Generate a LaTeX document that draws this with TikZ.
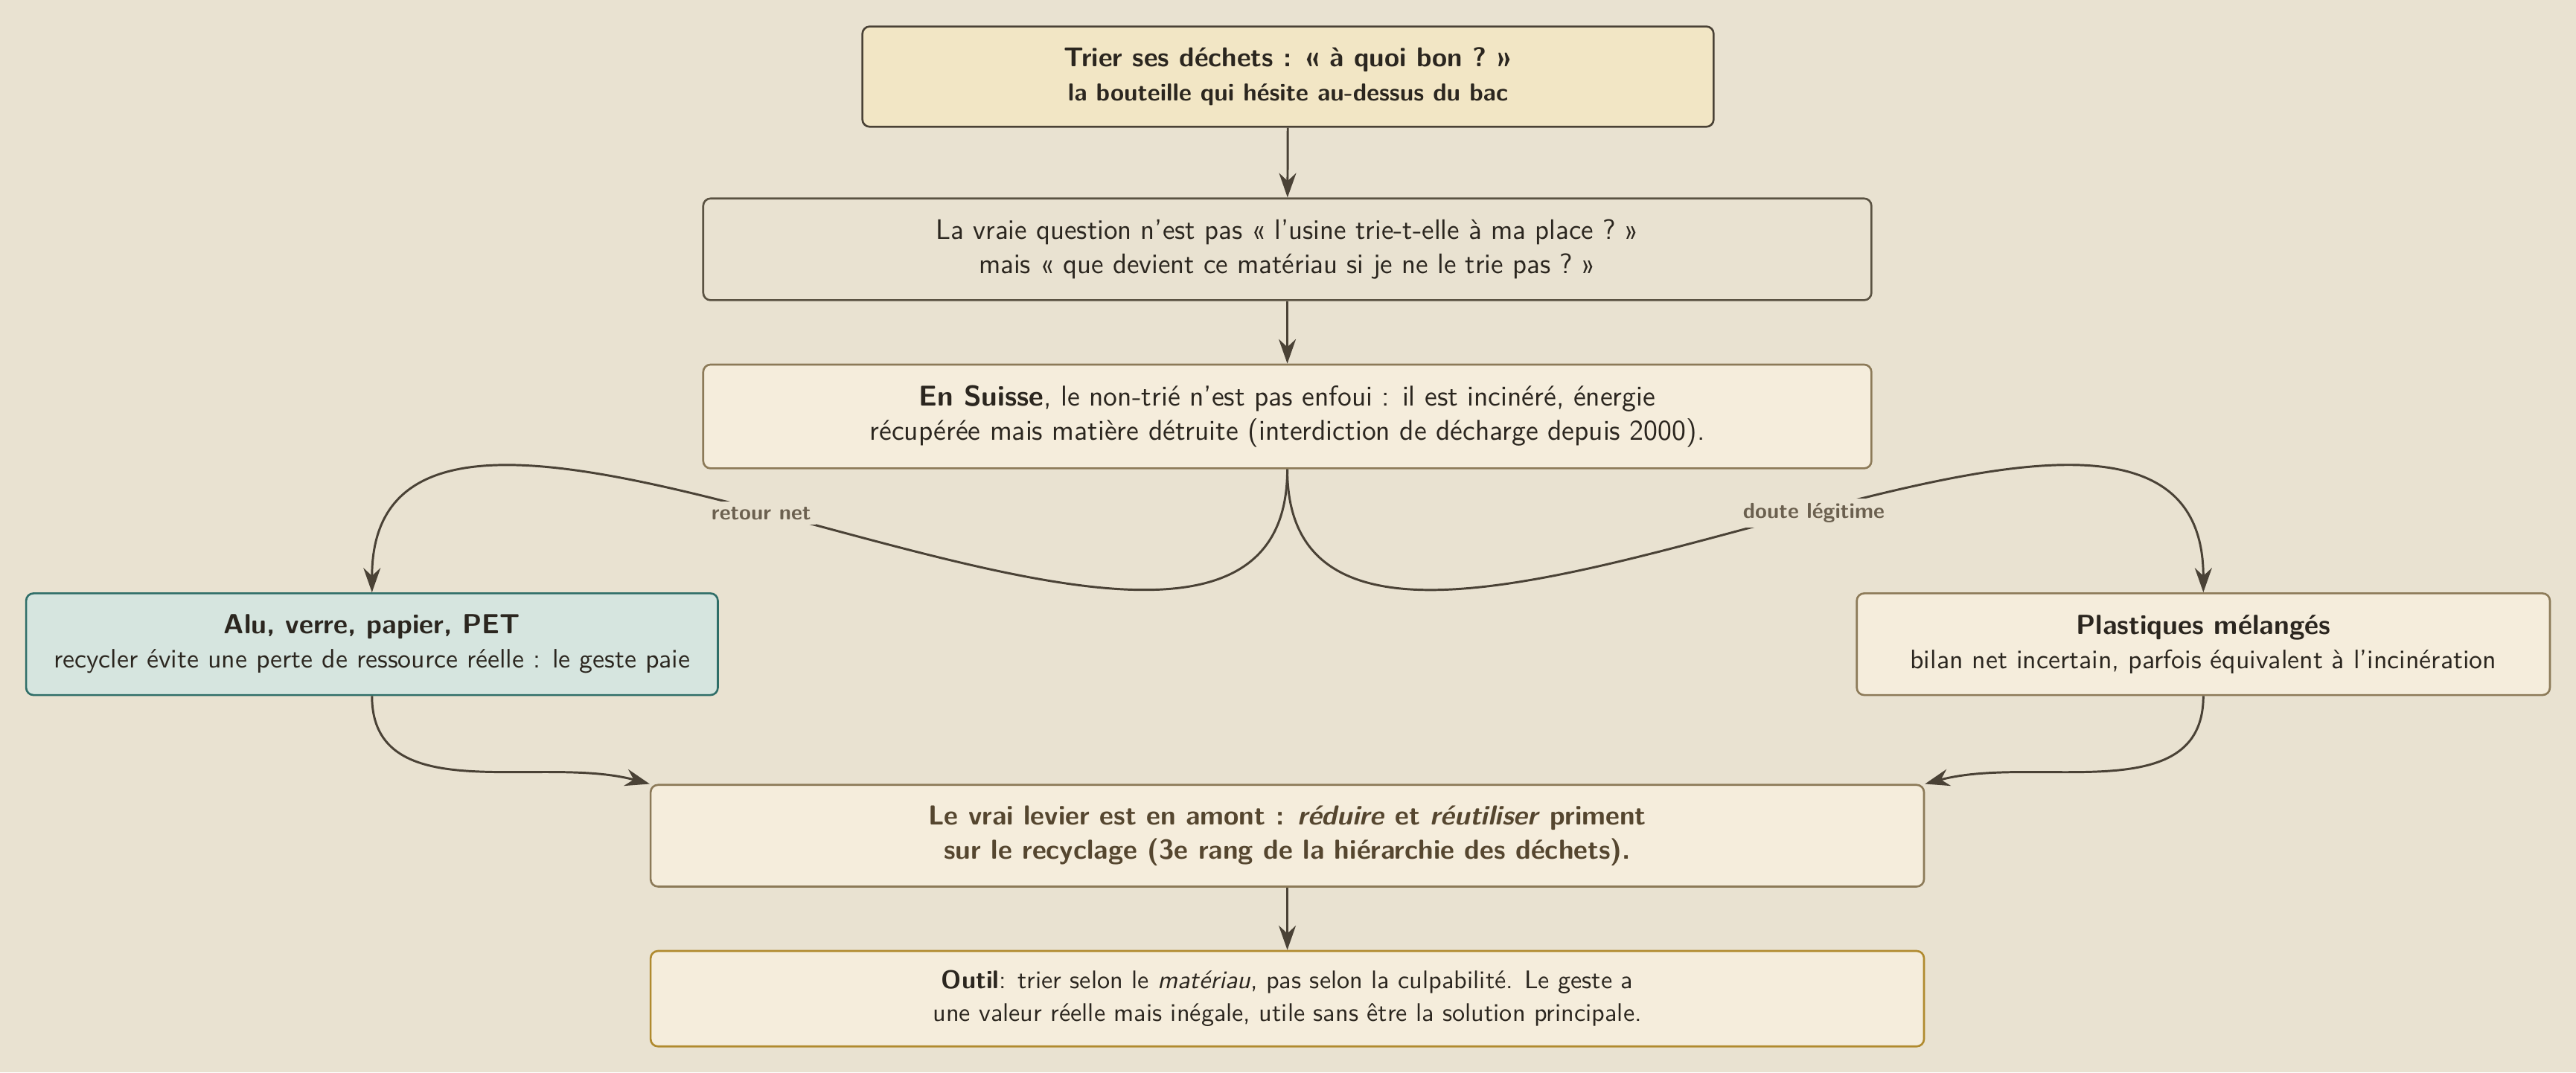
\documentclass[tikz,border=0pt]{standalone}
\usepackage{tikz}
\usetikzlibrary{arrows.meta, positioning}
\renewcommand{\familydefault}{\sfdefault}

\definecolor{fond}{HTML}{E9E2D1}
\definecolor{encre}{HTML}{2B261F}
\definecolor{trait}{HTML}{4A4236}
\definecolor{creme}{HTML}{F5EDDC}
\definecolor{sable}{HTML}{F2E6C5}
\definecolor{brun}{HTML}{8C7A58}
\definecolor{gris}{HTML}{5A5242}
\definecolor{menthe}{HTML}{D6E5DF}
\definecolor{sarcelle}{HTML}{2F6E68}
\definecolor{ocre}{HTML}{B08A2E}
\definecolor{levier}{HTML}{55462F}
\definecolor{etiquette}{HTML}{6B604F}

\newcommand{\taille}[1]{\fontsize{#1}{14}\selectfont}

\tikzset{
  boite/.style={rectangle, rounded corners=3pt, line width=0.8pt, align=center,
    text=encre, inner sep=4pt, fill=creme, draw=brun, font=\taille{11.5}},
  fleche/.style={-{Stealth[length=10pt,width=7pt]}, line width=0.9pt, draw=trait},
  etiq/.style={fill=fond, font=\taille{8.8}\bfseries, text=etiquette, inner sep=2pt},
}

\begin{document}
\begin{tikzpicture}
  \fill[fond] (0,0) rectangle (36.98,-15.40);
  \useasboundingbox (0,0) rectangle (36.98,-15.40);

  \node[boite, fill=sable, draw=trait, minimum width=12.22cm, minimum height=1.44cm] (1) at (18.49,-1.10)
    {{\taille{11.1}\bfseries Trier ses déchets~: «~à quoi bon~?~»}\\ {\taille{10}\bfseries la bouteille qui hésite au-dessus du bac}};
  \node[boite, fill=fond, draw=gris, minimum width=16.77cm, minimum height=1.46cm] (2) at (18.48,-3.58)
    {La vraie question n’est pas «~l’usine trie-t-elle à ma place~?~»\\ mais «~que devient ce matériau si je ne le trie pas~?~»};
  \node[boite, font=\taille{11.7}, minimum width=16.77cm, minimum height=1.49cm] (3) at (18.48,-5.98)
    {\textbf{En Suisse}, le non-trié n’est pas enfoui~: il est incinéré, énergie\\ récupérée mais matière détruite (interdiction de décharge depuis 2000).};
  \node[boite, fill=menthe, draw=sarcelle, font=\taille{10.9}, minimum width=9.93cm, minimum height=1.46cm] (4) at (5.34,-9.25)
    {{\taille{11.3}\bfseries Alu, verre, papier, PET}\\ recycler évite une perte de ressource réelle~: le geste paie};
  \node[boite, font=\taille{10.9}, minimum width=9.95cm, minimum height=1.46cm] (5) at (31.63,-9.25)
    {{\taille{11.3}\bfseries Plastiques mélangés}\\ bilan net incertain, parfois équivalent à l’incinération};
  \node[boite, text=levier, font=\taille{11.2}\bfseries, minimum width=18.28cm, minimum height=1.46cm] (6) at (18.48,-12.00)
    {Le vrai levier est en amont~: \textit{réduire} et \textit{réutiliser} priment\\ sur le recyclage (3e rang de la hiérarchie des déchets).};
  \node[boite, draw=ocre, font=\fontsize{10.4}{13.4}\selectfont, minimum width=18.28cm, minimum height=1.37cm] (7) at (18.48,-14.34)
    {\textbf{Outil}: trier selon le \textit{matériau}, pas selon la culpabilité. Le geste a\\ une valeur réelle mais inégale, utile sans être la solution principale.};

  \path
  (1) edge[fleche] (2)
  (2) edge[fleche] (3)
  (3.south) edge[fleche, out=-90, in=90] node[etiq, pos=0.55]{retour net} (4.north)
  (3.south) edge[fleche, out=-90, in=90] node[etiq, pos=0.55]{doute légitime} (5.north)
  (4.south) edge[fleche, out=-90, in=165] (6.north west)
  (5.south) edge[fleche, out=-90, in=15] (6.north east)
  (6) edge[fleche] (7)
  ;
\end{tikzpicture}
\end{document}
